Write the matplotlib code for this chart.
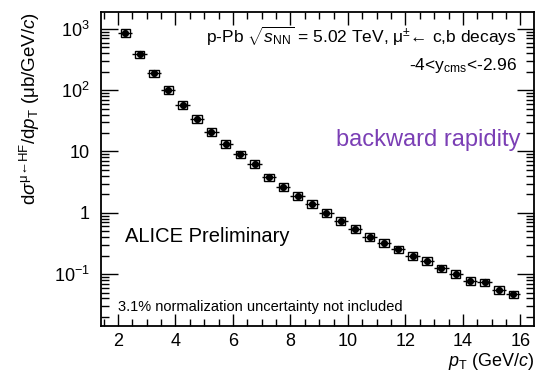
import matplotlib
matplotlib.use("Agg")
import matplotlib.pyplot as plt
from matplotlib.patches import Rectangle
from matplotlib.ticker import FixedLocator, MultipleLocator, LogLocator, NullFormatter
import numpy as np

plt.rcParams['font.family'] = ['Liberation Sans', 'DejaVu Sans']
plt.rcParams['mathtext.fontset'] = 'custom'
plt.rcParams['mathtext.rm'] = 'Liberation Sans'
plt.rcParams['mathtext.it'] = 'Liberation Sans:italic'
plt.rcParams['mathtext.bf'] = 'Liberation Sans:bold'
plt.rcParams['mathtext.sf'] = 'Liberation Sans'

# ---- data ----
pt = [2.25, 2.75, 3.25, 3.75, 4.25, 4.75, 5.25, 5.75, 6.25, 6.75,
      7.25, 7.75, 8.25, 8.75, 9.25, 9.75, 10.25, 10.75, 11.25, 11.75,
      12.25, 12.75, 13.25, 13.75, 14.25, 14.75, 15.25, 15.75]
xsec = [870, 386, 189, 101, 57.5, 34, 21.1, 13.5, 9.04, 6.28,
        3.81, 2.68, 1.89, 1.40, 1.01, 0.746, 0.546, 0.409, 0.327, 0.255,
        0.200, 0.164, 0.125, 0.1007, 0.0774, 0.0738, 0.0552, 0.047]
bin_halfwidth = [0.25] * len(pt)
stat_rel = [0.01] * 10 + [0.02] * 10 + [0.03] * 8
sys_rel = [0.14] * len(pt)

yticks = [0.1, 1, 10, 100, 1000]
ytick_labels = [r'$10^{-1}$', '1', '10', r'$10^{2}$', r'$10^{3}$']
xticks = [2, 4, 6, 8, 10, 12, 14, 16]

W, H = 537, 376
fig = plt.figure(figsize=(W / 100, H / 100), dpi=100)
ax = fig.add_axes([101 / W, 1 - 326 / H, 433 / W, 314 / H])
ax.set_yscale('log')
ax.set_xlim(1.41, 16.47)
ax.set_ylim(0.0142, 1890)

pt_a = np.array(pt)
y_a = np.array(xsec)
# systematic boxes
for x, y, s in zip(pt, xsec, sys_rel):
    ax.add_patch(Rectangle((x - 0.16, y * (1 - s)), 0.32, y * 2 * s,
                           fill=False, edgecolor='black', lw=1.0, zorder=2))
ax.errorbar(pt_a, y_a, xerr=bin_halfwidth, yerr=y_a * np.array(stat_rel),
            fmt='o', color='black', ms=4.2, elinewidth=1.0, capsize=0, zorder=3)

# ticks
ax.xaxis.set_major_locator(FixedLocator(xticks))
ax.xaxis.set_minor_locator(MultipleLocator(0.5))
ax.yaxis.set_major_locator(FixedLocator(yticks))
ax.yaxis.set_minor_locator(LogLocator(base=10, subs=np.arange(2, 10)))
ax.yaxis.set_minor_formatter(NullFormatter())
ax.set_yticklabels(ytick_labels)
ax.set_xticklabels([str(v) for v in xticks])
ax.tick_params(which='both', direction='in', top=True, right=True, labelsize=13, width=1.0)
ax.tick_params(axis='x', which='major', length=9, pad=5)
ax.tick_params(axis='x', which='minor', length=5)
ax.tick_params(axis='y', which='major', length=12, pad=8)
ax.tick_params(axis='y', which='minor', length=6)
for sp in ax.spines.values():
    sp.set_linewidth(1.3)

# texts
fig.text(517 / W, 1 - 43 / H,
         'p-Pb $\\sqrt{s_{\\rm NN}}$ = 5.02 TeV, \u03bc$^{\\pm}$\u2190 c,b decays',
         ha='right', va='baseline', fontsize=12.5)
fig.text(517 / W, 1 - 70 / H, r'-4<y$_{\rm cms}$<-2.96', ha='right', va='baseline', fontsize=12.5)
fig.text(521 / W, 1 - 146 / H, 'backward rapidity', ha='right', va='baseline',
         fontsize=17, color='#7b3fb5')
fig.text(125 / W, 1 - 242 / H, 'ALICE Preliminary', ha='left', va='baseline', fontsize=14.5)
fig.text(118 / W, 1 - 311 / H, '3.1% normalization uncertainty not included',
         ha='left', va='baseline', fontsize=10.5)

fig.text(30 / W, 1 - 12 / H,
         'd$\\sigma^{\\mathrm{\u03bc\u2190HF}}$/d$p_{\\rm T}$ (\u03bcb/GeV/$c$)',
         rotation=90, ha='center', va='top', fontsize=13.5)
fig.text(535 / W, 1 - 361 / H, r'$p_{\rm T}$ (GeV/$c$)', ha='right', va='center', fontsize=13)

fig.savefig('out.png', dpi=100)
